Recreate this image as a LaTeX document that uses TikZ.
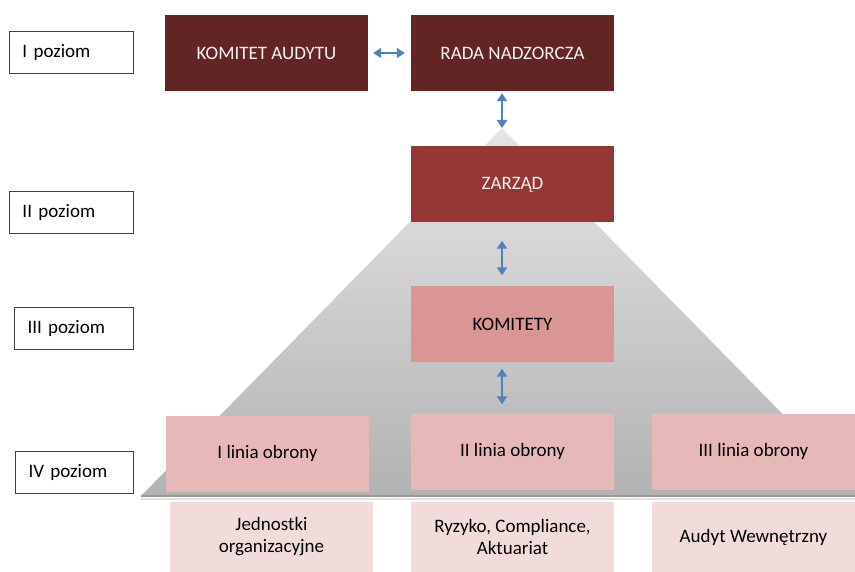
\documentclass[tikz,border=0pt]{standalone}
\usepackage{fontspec}
\setmainfont{Carlito}
\usetikzlibrary{arrows.meta}

\definecolor{ciemny}{HTML}{632523}
\definecolor{zarzad}{HTML}{953735}
\definecolor{komitet}{HTML}{D99694}
\definecolor{linia}{HTML}{E6B9B8}
\definecolor{jasny}{HTML}{F2DCDB}
\definecolor{strz}{HTML}{4F81BD}

\begin{document}
\begin{tikzpicture}[x=1pt,y=-1pt,
    box/.style={minimum width=203pt,minimum height=76pt,inner sep=0pt,
      font=\fontsize{19}{22}\selectfont,align=center},
    poziom/.style={draw=black!75,line width=1pt,fill=white,minimum height=42pt,
      inner xsep=13pt,text width=98pt,align=left,anchor=north west,
      font=\fontsize{19}{22}\selectfont},
    dwa/.style={{Triangle[width=10pt,length=8pt]}-{Triangle[width=10pt,length=8pt]},
      strz,line width=1.8pt}]
          \useasboundingbox[fill=white] (0,0) rectangle (855,572);

          % piramida
          \coordinate (apex) at (502,128);
          \shade[top color=black!10,bottom color=black!30] (apex) -- (863,496) -- (141,496) -- cycle;
          \draw[black!40,line width=2pt] (141,496) -- (855,496);
          \draw[black!12,line width=2pt] (141,499) -- (855,499);

          % poziomy
          \node[poziom] (p1) at (9,31) {I poziom};
          \node[poziom] (p2) at (9,191) {II poziom};
          \node[poziom,text width=93pt] (p3) at (14,307) {III poziom};
          \node[poziom,text width=92pt] (p4) at (15,451) {IV poziom};

          % organy
          \node[box,fill=ciemny,text=white!95!black] (ka) at (266.5,53) {KOMITET AUDYTU};
          \node[box,fill=ciemny,text=white!95!black] (rn) at (512.5,53) {RADA NADZORCZA};
          \node[box,fill=zarzad,text=white!95!black] (za) at (512.5,184.5) {ZARZĄD};
          \node[box,fill=komitet] (ko) at (512.5,324.5) {KOMITETY};

          \node[box,fill=linia] (l1) at (267.5,453.5) {I linia obrony};
          \node[box,fill=linia] (l2) at (512.5,451.5) {II linia obrony};
          \node[box,fill=linia] (l3) at (753.5,451.5) {III linia obrony};

          \node[box,fill=jasny,minimum height=70pt] (j1) at (271.5,537) {Jednostki\\organizacyjne};
          \node[box,fill=jasny,minimum height=70pt] (j2) at (512.5,537) {Ryzyko, Compliance,\\Aktuariat};
          \node[box,fill=jasny,minimum height=70pt] (j3) at (753.5,537) {Audyt Wewnętrzny};

          % strzalki
          \draw[dwa,shorten <=5pt,shorten >=6pt] (ka) -- (rn);
          \draw[dwa,shorten <=2pt] (rn.south -| apex) -- (apex);
          \draw[dwa,shorten <=18pt,shorten >=11pt] (za.south -| apex) -- (ko.north -| apex);
          \draw[dwa,shorten <=6pt,shorten >=9pt] (ko.south -| apex) -- (l2.north -| apex);
    \end{tikzpicture}
\end{document}
